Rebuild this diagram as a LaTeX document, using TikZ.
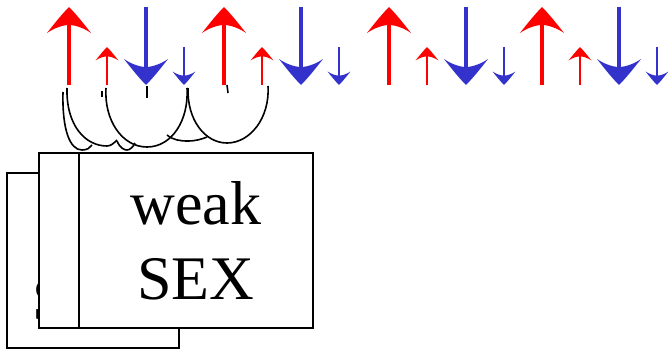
\documentclass[tikz,border=0pt]{standalone}
\usepackage{fontspec}
\setmainfont{Liberation Serif}
\definecolor{spinred}{RGB}{255,0,0}
\definecolor{spinblue}{RGB}{51,51,204}
\tikzset{
  head/.pic={\fill (0,0) .. controls (-7,7) and (-15,17) .. (-22,26)
      .. controls (-15,21) and (-6,18) .. (0,18)
      .. controls (6,18) and (15,21) .. (22,26)
      .. controls (15,17) and (7,7) .. (0,0) -- cycle;},
  bigshaft/.style={line width=4pt},
  smallshaft/.style={line width=2pt},
  loop/.style={black,line width=1.6pt},
  card/.style={draw,fill=white,line width=1.1pt,inner sep=0pt,
    minimum height=175pt},
  cardfont/.style={font=\fontsize{62}{75}\selectfont}
}
\begin{document}
\begin{tikzpicture}[x=1pt,y=-1pt]
\useasboundingbox (0,0) rectangle (671,350);
% spins: big up, small up, big down, small down
\foreach \x in {69,224,389,542} {
  \draw[spinred,bigshaft] (\x,85) -- (\x,20);
  \pic[color=spinred] at (\x,7) {head};
  \draw[spinred,smallshaft] (\x+38,85) -- (\x+38,54);
  \pic[color=spinred,scale=0.52] at (\x+38,47) {head};
  \draw[spinblue,bigshaft] (\x+77,7) -- (\x+77,72);
  \pic[color=spinblue,yscale=-1] at (\x+77,85) {head};
  \draw[spinblue,smallshaft] (\x+115,47) -- (\x+115,78);
  \pic[color=spinblue,yscale=-0.52,xscale=0.52] at (\x+115,85) {head};
}
% loops
\draw[loop] (63,92) .. controls (62,130) and (70,150) .. (82,150) .. controls (87,150) and (90,148) .. (92,145);
\draw[loop] (67,88) .. controls (66,125) and (85,146) .. (107,146) .. controls (111,146) and (114,143) .. (117,140);
\draw[loop] (117,141) .. controls (120,148) and (124,150) .. (127,150) .. controls (130,150) and (133,147) .. (135,143);
\draw[loop] (106,88) .. controls (104,120) and (122,147) .. (147,147) .. controls (172,147) and (189,120) .. (187,88);
\draw[loop] (167,135) .. controls (173,140) and (180,141) .. (188,141) .. controls (196,141) and (202,139) .. (207,137);
\draw[loop] (188,88) .. controls (187,120) and (205,143) .. (227,143) .. controls (250,143) and (270,118) .. (268,86);
\draw[loop] (102,91) -- (102,97);
\draw[loop] (147,86) -- (147,98);
\draw[loop] (227,85) -- (228,93);
% cards
\node[card,minimum width=172pt] (back) at (93,260.5) {};
\node[cardfont,anchor=base] (backtxt) at (91,320) {SEX};
\node[card,minimum width=234pt] (mid) at (156,240.5) {};
\node[card,cardfont,minimum width=234pt,align=center] (front) at (196,240.5) {weak\\SEX};
\end{tikzpicture}
\end{document}
